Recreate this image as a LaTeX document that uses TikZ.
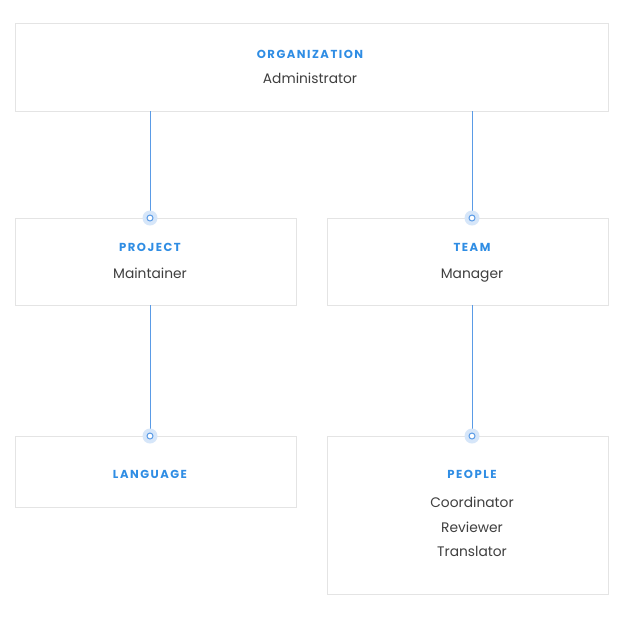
\documentclass[tikz,border=0pt]{standalone}
\usepackage{fontspec}
\setmainfont{Poppins}
\newfontfamily\headfont[LetterSpace=13]{Poppins}
\definecolor{hblue}{HTML}{2F8DE4}
\definecolor{lblue}{HTML}{5A9BE6}
\definecolor{halo}{HTML}{D6E6F9}
\definecolor{bgray}{HTML}{E4E4E4}
\definecolor{tgray}{HTML}{3F3F3F}
\begin{document}
\begin{tikzpicture}[x=1pt,y=-1pt,
  box/.style={draw=bgray,line width=1pt,fill=white},
  head/.style={text=hblue,font=\headfont\fontsize{11.6}{13}\selectfont\bfseries,inner sep=0pt,anchor=base},
  role/.style={text=tgray,font=\fontsize{13.8}{16}\selectfont,inner sep=0pt,anchor=base},
  link/.style={draw=lblue,line width=1pt}]
\useasboundingbox (0,0) rectangle (630,630);
\fill[white] (0,0) rectangle (630,630);
% boxes
\draw[box] (15,23) rectangle (608,111);
\draw[box] (15,218) rectangle (296,305);
\draw[box] (327,218) rectangle (608,305);
\draw[box] (15,436) rectangle (296,507);
\draw[box] (327,436) rectangle (608,594);
% anchor coordinates
\coordinate (orgL) at (150,111);
\coordinate (orgR) at (472,111);
\coordinate (projT) at (150,218);
\coordinate (projB) at (150,305);
\coordinate (teamT) at (472,218);
\coordinate (teamB) at (472,305);
\coordinate (langT) at (150,436);
\coordinate (peopT) at (472,436);
% texts
\node[head] (orgh) at (310,58) {ORGANIZATION};
\node[role] (orgr) at (310,83) {Administrator};
\node[head] (projh) at (150,251) {PROJECT};
\node[role] (projr) at (150,278) {Maintainer};
\node[head] (teamh) at (472,251) {TEAM};
\node[role] (teamr) at (472,278) {Manager};
\node[head] (langh) at (150,478) {LANGUAGE};
\node[head] (peoph) at (472,478) {PEOPLE};
\node[role] (p1) at (472,507) {Coordinator};
\node[role] (p2) at (472,532) {Reviewer};
\node[role] (p3) at (472,556) {Translator};
% connectors
\draw[link] (orgL) -- (projT);
\draw[link] (orgR) -- (teamT);
\draw[link] (projB) -- (langT);
\draw[link] (teamB) -- (peopT);
% end dots
\foreach \c in {projT,teamT,langT,peopT}{
  \fill[halo] (\c) circle (7.5);
  \filldraw[fill=white,draw=lblue,line width=1pt] (\c) circle (3);
}
\end{tikzpicture}
\end{document}
